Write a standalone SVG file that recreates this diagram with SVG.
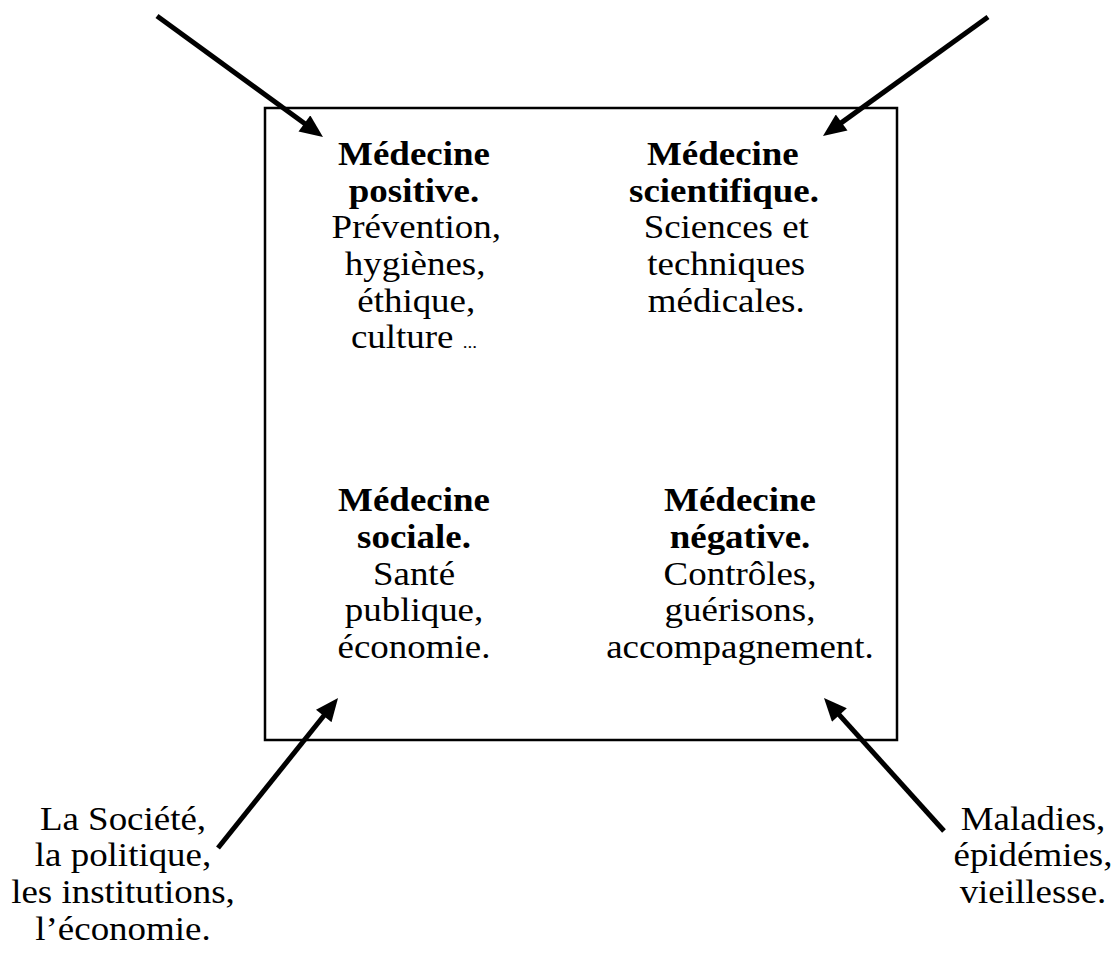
<svg xmlns="http://www.w3.org/2000/svg" width="1117" height="959" viewBox="0 0 1117 959">
<style>
text{font-family:"Liberation Serif","Times New Roman",serif;font-size:33px;fill:#000;text-anchor:middle}
.b{font-weight:bold}
.conn line{stroke:#000;stroke-width:5}
</style>
<defs>
<marker id="ah" markerUnits="userSpaceOnUse" markerWidth="24" markerHeight="20" viewBox="0 0 23 20" refX="13" refY="10" orient="auto">
<path d="M0,0 L23,10 L0,20 Z" fill="#000"/>
</marker>
</defs>
<rect width="1117" height="959" fill="#fff"/>
<g id="frame"><rect x="265" y="108" width="632" height="632" fill="none" stroke="#000" stroke-width="2.5"/></g>
<g id="positive" transform="translate(414,0) scale(1.12,1) translate(-414,0)">
<text x="414" y="165" class="b">Médecine</text>
<text x="414" y="202" class="b">positive.</text>
<text x="416" y="238">Prévention,</text>
<text x="415" y="275">hygiènes,</text>
<text x="416" y="312">éthique,</text>
<text x="414" y="348">culture <tspan font-size="17">...</tspan></text>
</g>
<g id="scientifique" transform="translate(724,0) scale(1.12,1) translate(-724,0)">
<text x="723" y="165" class="b">Médecine</text>
<text x="724" y="202" class="b">scientifique.</text>
<text x="726" y="238">Sciences et</text>
<text x="726" y="275">techniques</text>
<text x="726" y="312">médicales.</text>
</g>
<g id="sociale" transform="translate(414,0) scale(1.12,1) translate(-414,0)">
<text x="414" y="511" class="b">Médecine</text>
<text x="414" y="548" class="b">sociale.</text>
<text x="414" y="585">Santé</text>
<text x="414" y="621">publique,</text>
<text x="414" y="658">économie.</text>
</g>
<g id="negative" transform="translate(740,0) scale(1.12,1) translate(-740,0)">
<text x="740" y="511" class="b">Médecine</text>
<text x="740" y="548" class="b">négative.</text>
<text x="740" y="585">Contrôles,</text>
<text x="740" y="621">guérisons,</text>
<text x="740" y="658">accompagnement.</text>
</g>
<g id="societe" transform="translate(123,0) scale(1.12,1) translate(-123,0)">
<text x="123" y="830">La Société,</text>
<text x="123" y="866">la politique,</text>
<text x="123" y="903">les institutions,</text>
<text x="123" y="940">l’économie.</text>
</g>
<g id="maladies" transform="translate(1033,0) scale(1.12,1) translate(-1033,0)">
<text x="1033" y="830">Maladies,</text>
<text x="1033" y="866">épidémies,</text>
<text x="1033" y="903">vieillesse.</text>
</g>
<g class="conn" id="connectors">
<line x1="157" y1="16" x2="314.9" y2="131.1" marker-end="url(#ah)"/>
<line x1="988" y1="17" x2="831.1" y2="130.1" marker-end="url(#ah)"/>
<line x1="218" y1="848" x2="331.8" y2="705.8" marker-end="url(#ah)"/>
<line x1="944" y1="831" x2="830.7" y2="705.4" marker-end="url(#ah)"/>
</g>
</svg>
